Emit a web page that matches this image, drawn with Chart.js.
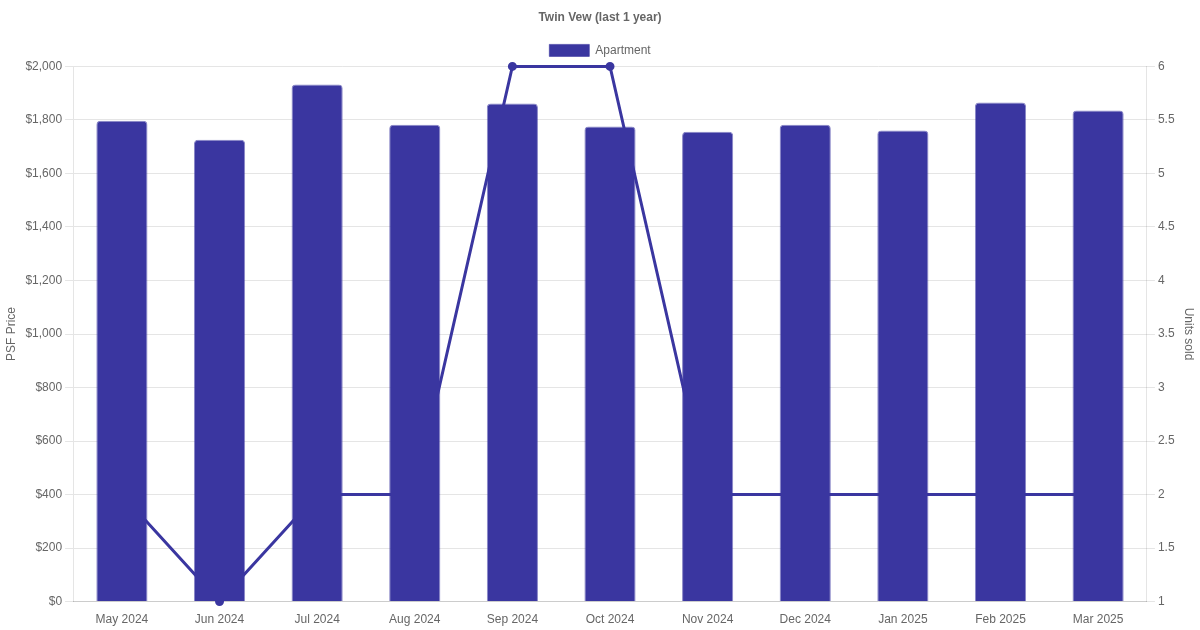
<!DOCTYPE html>
<html>
<head>
<meta charset="utf-8">
<script src="https://cdn.jsdelivr.net/npm/chart.js@4"></script>
<style>
html,body{margin:0;padding:0;background:#fff;}
#wrap{width:1200px;height:630px;}
</style>
</head>
<body>
<div id="wrap"><canvas id="c" width="1200" height="630"></canvas></div>
<script>
const categories = ["May 2024","Jun 2024","Jul 2024","Aug 2024","Sep 2024","Oct 2024","Nov 2024","Dec 2024","Jan 2025","Feb 2025","Mar 2025"];
const psfPrice = [1797, 1726, 1932, 1782, 1861, 1775, 1756, 1782, 1760, 1865, 1835];
const unitsSold = [2, 1, 2, 2, 6, 6, 2, 2, 2, 2, 2];
const chartTitle = "Twin Vew (last 1 year)";

Chart.defaults.font.family = "'Liberation Sans', Arial, sans-serif";
Chart.defaults.font.size = 12;
Chart.defaults.color = "#666";

new Chart(document.getElementById('c'), {
  data: {
    labels: categories,
    datasets: [
      {
        type: 'bar',
        label: 'Apartment',
        data: psfPrice,
        yAxisID: 'y',
        backgroundColor: 'rgb(58,54,160)',
        borderColor: 'rgba(58,54,160,0.6)',
        borderWidth: 1,
        borderRadius: 4,
        borderSkipped: 'bottom',
        categoryPercentage: 0.8,
        barPercentage: 0.655,
        order: 0
      },
      {
        type: 'line',
        label: 'Units sold',
        data: unitsSold,
        yAxisID: 'y1',
        borderColor: 'rgb(58,54,160)',
        backgroundColor: 'rgb(58,54,160)',
        borderWidth: 3,
        pointRadius: 3,
        tension: 0,
        fill: false,
        clip: false,
        order: 1
      }
    ]
  },
  options: {
    responsive: false,
    animation: false,
    plugins: {
      title: { display: true, text: chartTitle, font: { size: 12, weight: 'bold' }, color: '#666', padding: { top: 10, bottom: 10 } },
      legend: {
        display: true,
        labels: { boxWidth: 40, boxHeight: 12, color: '#666', filter: (item) => item.text === 'Apartment' }
      },
      tooltip: { enabled: false }
    },
    scales: {
      x: {
        grid: { display: false },
        border: { display: true, color: '#cccccc' },
        ticks: { color: '#666' }
      },
      y: {
        position: 'left',
        min: 0, max: 2000,
        ticks: { stepSize: 200, color: '#666', callback: v => '$' + v.toLocaleString('en-US') },
        grid: { color: '#e5e5e5' },
        title: { display: true, text: 'PSF Price', color: '#666' }
      },
      y1: {
        position: 'right',
        min: 1, max: 6,
        ticks: { stepSize: 0.5, color: '#666', callback: v => String(v) },
        grid: { drawOnChartArea: false, color: '#e5e5e5' },
        title: { display: true, text: 'Units sold', color: '#666' }
      }
    }
  }
});
</script>
</body>
</html>
